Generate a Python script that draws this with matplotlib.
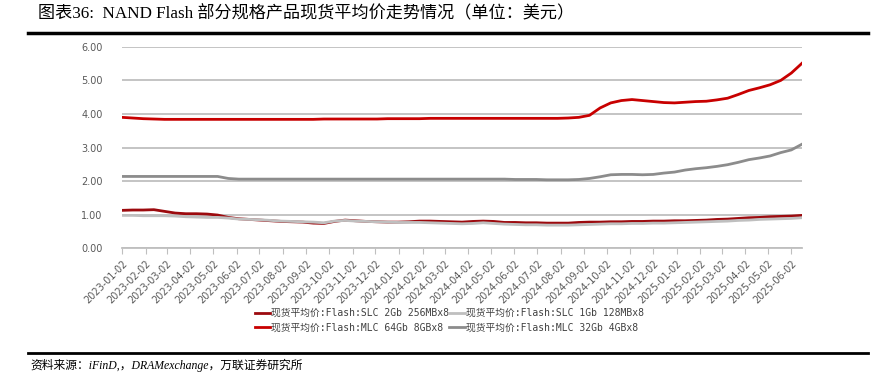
import matplotlib
matplotlib.use("Agg")
import matplotlib.pyplot as plt
import pandas as pd

plt.rcParams['font.family'] = ['DejaVu Sans', 'Noto Sans CJK SC']

# 两周一个点, 2023-01-02 起
dates = pd.date_range("2023-01-02", periods=65, freq="14D")

slc_2gb = [1.13, 1.14, 1.14, 1.15, 1.10, 1.05, 1.03, 1.03, 1.02, 0.99,
           0.92, 0.88, 0.86, 0.84, 0.82, 0.80, 0.79, 0.78, 0.75, 0.74,
           0.80, 0.84, 0.82, 0.80, 0.79, 0.78, 0.78, 0.79, 0.81, 0.81,
           0.80, 0.79, 0.78, 0.80, 0.81, 0.80, 0.77, 0.77, 0.76, 0.76,
           0.75, 0.75, 0.75, 0.77, 0.78, 0.78, 0.79, 0.79, 0.80, 0.80,
           0.81, 0.81, 0.82, 0.82, 0.83, 0.84, 0.86, 0.87, 0.89, 0.91,
           0.92, 0.94, 0.95, 0.96, 0.98]

slc_1gb = [0.98, 0.98, 0.97, 0.97, 0.97, 0.96, 0.94, 0.93, 0.92, 0.92,
           0.90, 0.87, 0.86, 0.85, 0.83, 0.81, 0.80, 0.79, 0.78, 0.76,
           0.81, 0.83, 0.81, 0.80, 0.79, 0.78, 0.77, 0.77, 0.77, 0.76,
           0.75, 0.74, 0.73, 0.74, 0.76, 0.74, 0.72, 0.71, 0.70, 0.70,
           0.69, 0.69, 0.69, 0.70, 0.71, 0.72, 0.73, 0.73, 0.74, 0.74,
           0.75, 0.75, 0.76, 0.77, 0.78, 0.79, 0.80, 0.81, 0.83, 0.84,
           0.86, 0.87, 0.88, 0.89, 0.91]

mlc_64gb = [3.90, 3.88, 3.86, 3.85, 3.84, 3.84, 3.84, 3.84, 3.84, 3.84,
            3.84, 3.84, 3.84, 3.84, 3.84, 3.84, 3.84, 3.84, 3.84, 3.85,
            3.85, 3.85, 3.85, 3.85, 3.85, 3.86, 3.86, 3.86, 3.86, 3.87,
            3.87, 3.87, 3.87, 3.87, 3.87, 3.87, 3.87, 3.87, 3.87, 3.87,
            3.87, 3.87, 3.88, 3.90, 3.96, 4.18, 4.33, 4.40, 4.43, 4.40,
            4.37, 4.34, 4.33, 4.35, 4.37, 4.38, 4.42, 4.47, 4.58, 4.70,
            4.78, 4.87, 5.00, 5.22, 5.51]

mlc_32gb = [2.14, 2.14, 2.14, 2.14, 2.14, 2.14, 2.14, 2.14, 2.14, 2.14,
            2.08, 2.06, 2.06, 2.06, 2.06, 2.06, 2.06, 2.06, 2.06, 2.06,
            2.06, 2.06, 2.06, 2.06, 2.06, 2.06, 2.06, 2.06, 2.06, 2.06,
            2.06, 2.06, 2.06, 2.06, 2.06, 2.06, 2.06, 2.05, 2.05, 2.05,
            2.04, 2.04, 2.04, 2.05, 2.08, 2.13, 2.19, 2.20, 2.20, 2.19,
            2.20, 2.24, 2.27, 2.33, 2.37, 2.40, 2.44, 2.49, 2.56, 2.64,
            2.69, 2.75, 2.85, 2.93, 3.10]

labels = ["现货平均价:Flash:SLC 2Gb 256MBx8",
          "现货平均价:Flash:SLC 1Gb 128MBx8",
          "现货平均价:Flash:MLC 64Gb 8GBx8",
          "现货平均价:Flash:MLC 32Gb 4GBx8"]
colors = ["#9C0A0E", "#BFBFBF", "#C80000", "#8C8C8C"]

tick_dates = pd.date_range("2023-01-01", "2025-06-01", freq="MS") + pd.Timedelta(days=1)

fig = plt.figure(figsize=(8.74, 3.87), dpi=100)
ax = fig.add_axes([0.1396, 0.3584, 0.778, 0.5206])

lines = []
for ys, lab, c in zip([slc_2gb, slc_1gb, mlc_64gb, mlc_32gb], labels, colors):
    ln, = ax.plot(dates, ys, color=c, lw=2.0, label=lab)
    lines.append(ln)

ax.set_ylim(0, 6)
ax.set_yticks([0, 1, 2, 3, 4, 5, 6])
ax.set_yticklabels(["%.2f" % v for v in range(7)])
ax.set_xlim(dates[0], dates[-1])
ax.set_xticks(tick_dates)
ax.set_xticklabels([d.strftime("%Y-%m-%d") for d in tick_dates],
                   rotation=45, ha="right", rotation_mode="anchor")
ax.tick_params(axis="y", length=0, pad=14, labelsize=7, labelcolor="#595959")
ax.tick_params(axis="x", length=4, color="#BFBFBF", pad=3, labelsize=7,
               labelcolor="#595959")
ax.grid(axis="y", color="#BFBFBF", lw=1.3)
ax.set_axisbelow(True)
for s in ["top", "right", "left"]:
    ax.spines[s].set_visible(False)
ax.spines["bottom"].set_color("#BFBFBF")
ax.spines["bottom"].set_linewidth(1.3)

# 图例按行排: 第一行 SLC, 第二行 MLC
order = [0, 2, 1, 3]
fig.legend([lines[i] for i in order], [labels[i] for i in order],
           loc="center", bbox_to_anchor=(0.514, 0.172), ncol=2, frameon=False,
           handlelength=1.6, handletextpad=0.1, columnspacing=0.0,
           labelspacing=0.5,
           prop={"family": ["DejaVu Sans Mono", "Noto Sans CJK SC"], "size": 7},
           labelcolor="#404040")

fig.text(0.043, 0.964, "图表36:  NAND Flash 部分规格产品现货平均价走势情况（单位：美元）",
         fontsize=12.3, family=["Liberation Serif", "Noto Sans CJK SC"], va="center")
fig.add_artist(plt.Line2D([0.032, 0.993], [0.915, 0.915], color="black", lw=2.5))
fig.add_artist(plt.Line2D([0.032, 0.993], [0.088, 0.088], color="black", lw=2.0))
fig.text(0.035, 0.055, "资料来源：iFinD,，DRAMexchange，万联证券研究所",
         fontsize=8.5, style="italic", family=["Liberation Serif", "Noto Sans CJK SC"],
         va="center")

fig.savefig("out.png", dpi=100)
